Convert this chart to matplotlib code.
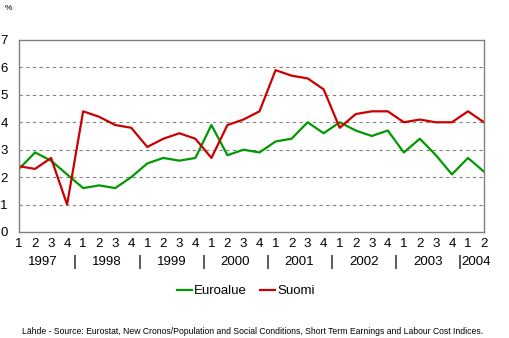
import matplotlib
matplotlib.use('Agg')
import matplotlib.pyplot as plt
import matplotlib.transforms as mtransforms

plt.rcParams['font.family'] = ['Liberation Sans', 'DejaVu Sans']

vuodet = ['1997', '1998', '1999', '2000', '2001', '2002', '2003', '2004']
neljannekset = ['1', '2', '3', '4'] * 7 + ['1', '2']

euroalue = [2.3, 2.9, 2.6, 2.1, 1.6, 1.7, 1.6, 2.0, 2.5, 2.7, 2.6, 2.7,
            3.9, 2.8, 3.0, 2.9, 3.3, 3.4, 4.0, 3.6, 4.0, 3.7, 3.5, 3.7,
            2.9, 3.4, 2.8, 2.1, 2.7, 2.2]
suomi = [2.4, 2.3, 2.7, 1.0, 4.4, 4.2, 3.9, 3.8, 3.1, 3.4, 3.6, 3.4,
         2.7, 3.9, 4.1, 4.4, 5.9, 5.7, 5.6, 5.2, 3.8, 4.3, 4.4, 4.4,
         4.0, 4.1, 4.0, 4.0, 4.4, 4.0]

fig = plt.figure(figsize=(5.10, 3.38), dpi=100)
ax = fig.add_axes([19/510, 1 - 232/338, (484 - 19)/510, 192/338])

x = list(range(len(euroalue)))
ax.plot(x, euroalue, color='#009900', lw=1.6, label='Euroalue')
ax.plot(x, suomi, color='#cc0000', lw=1.6, label='Suomi')

ax.set_xlim(0, len(x) - 1)
ax.set_ylim(0, 7)
ax.set_yticks(range(8))
for yy in range(1, 7):
    ax.axhline(yy, color='#808080', lw=0.8, ls=(0, (3, 3)), zorder=0)

for s in ax.spines.values():
    s.set_color('#808080')
    s.set_linewidth(1)

ax.set_xticks(x)
ax.set_xticklabels(neljannekset, fontsize=9.5)
ax.tick_params(axis='x', length=0, pad=4)
ax.tick_params(axis='y', length=0, pad=8, labelsize=9.5)

trans = mtransforms.blended_transform_factory(ax.transData, ax.transAxes)
for i, v in enumerate(vuodet):
    alku = i * 4
    loppu = min(alku + 3, len(x) - 1)
    ax.text((alku + loppu) / 2, -0.157, v, transform=trans, ha='center',
            va='center', fontsize=9.5)
    if i > 0:
        ax.text(alku - 0.5, -0.157, '|', transform=trans, ha='center',
                va='center', fontsize=11)

fig.text(5/510, 1 - 9/338, '%', fontsize=6, ha='left', va='center')

fig.legend(loc='center', bbox_to_anchor=(246/510, 1 - 291/338), ncol=2,
           frameon=False, fontsize=9.5, handlelength=1.1, handletextpad=0.2,
           columnspacing=1.0)

fig.text(22/510, 1 - 332/338,
         'Lähde - Source: Eurostat, New Cronos/Population and Social Conditions, '
         'Short Term Earnings and Labour Cost Indices.',
         fontsize=6.2, ha='left', va='center')

fig.savefig('out.png', dpi=100)
